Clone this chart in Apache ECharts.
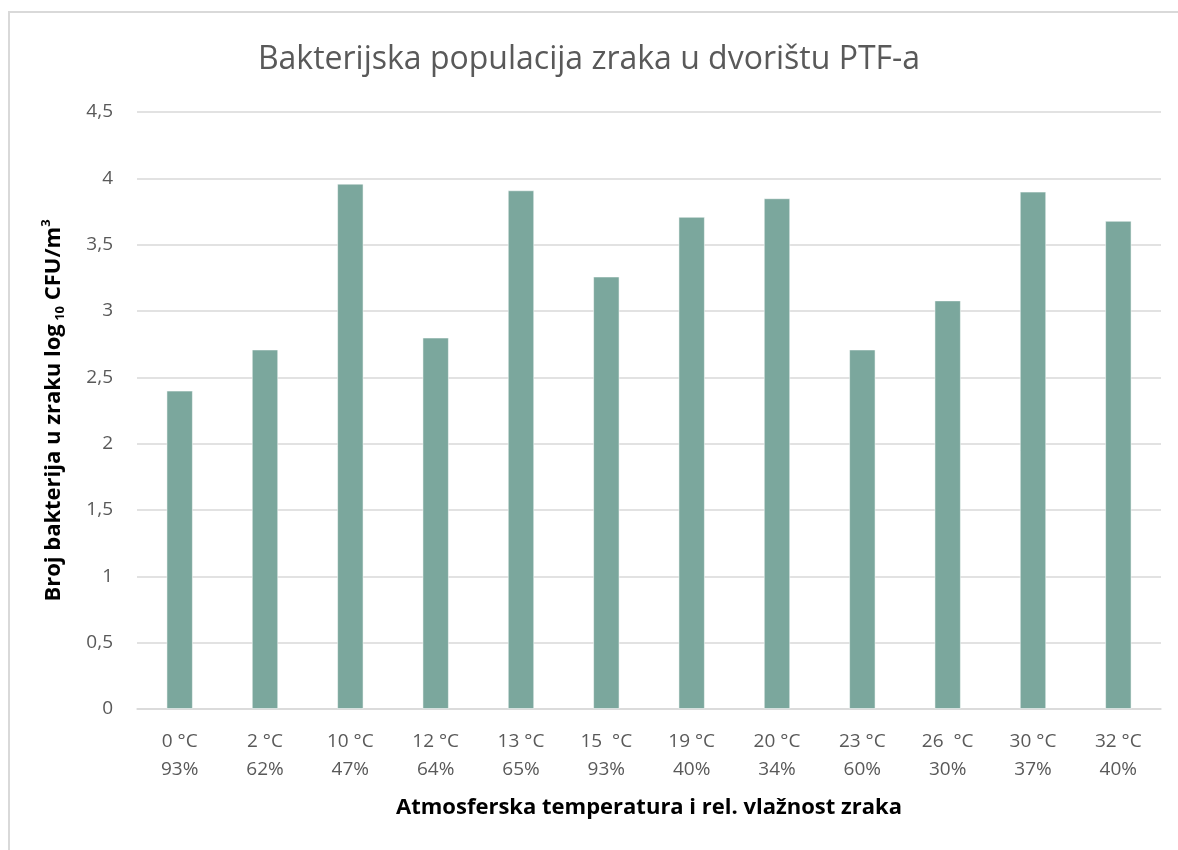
<!DOCTYPE html>
<html>
<head>
<meta charset="utf-8">
<title>Bakterijska populacija zraka</title>
<script src="https://cdn.jsdelivr.net/npm/echarts@6/dist/echarts.min.js"></script>
<style>
  html, body { margin: 0; padding: 0; background: #fff; }
  #chart { width: 1178px; height: 850px; }
</style>
</head>
<body>
<div id="chart"></div>
<script>
  // temperatura i vlaga po mjerenju
  var temps = ['0 °C', '2 °C', '10 °C', '12 °C', '13 °C', '15  °C', '19 °C', '20 °C', '23 °C', '26  °C', '30 °C', '32 °C'];
  var humidity = ['93%', '62%', '47%', '64%', '65%', '93%', '40%', '34%', '60%', '30%', '37%', '40%'];
  // log10 CFU/m3
  var values = [2.40, 2.71, 3.96, 2.80, 3.91, 3.26, 3.71, 3.85, 2.71, 3.08, 3.90, 3.68];

  var categories = temps.map(function (t, i) { return t + '\n' + humidity[i]; });

  var fontName = '"Open Sans", "Noto Sans", sans-serif';
  var myChart = echarts.init(document.getElementById('chart'));

  myChart.setOption({
    backgroundColor: '#fff',
    textStyle: { fontFamily: fontName },
    title: {
      text: 'Bakterijska populacija zraka u dvorištu PTF-a',
      left: 'center',
      top: 39,
      textStyle: {
        fontFamily: fontName,
        fontWeight: 'normal',
        fontSize: 32,
        color: '#595959'
      }
    },
    graphic: [{
      type: 'rect',
      shape: { x: 9, y: 12, width: 1300, height: 1000 },
      style: { fill: 'none', stroke: '#d9d9d9', lineWidth: 2 },
      silent: true
    }],
    grid: {
      left: 137,
      right: 17,
      top: 112,
      bottom: 141
    },
    xAxis: {
      type: 'category',
      data: categories,
      name: 'Atmosferska temperatura i rel. vlažnost zraka',
      nameLocation: 'middle',
      nameGap: 88,
      nameTextStyle: {
        fontFamily: fontName,
        fontWeight: 'bold',
        fontSize: 22,
        color: '#000'
      },
      axisLine: { lineStyle: { color: '#d9d9d9', width: 1.5 } },
      axisTick: { show: false },
      axisLabel: {
        interval: 0,
        margin: 19,
        fontSize: 19,
        lineHeight: 28,
        color: '#595959'
      }
    },
    yAxis: {
      type: 'value',
      min: 0,
      max: 4.5,
      interval: 0.5,
      name: '{a|Broj bakterija u zraku log}{s| 10}{a| CFU/m}{p|3}',
      nameLocation: 'middle',
      nameGap: 70,
      nameTextStyle: {
        fontFamily: fontName,
        fontWeight: 'bold',
        fontSize: 22,
        color: '#000',
        rich: {
          a: { fontFamily: fontName, fontWeight: 'bold', fontSize: 22, color: '#000', lineHeight: 27 },
          s: { fontFamily: fontName, fontWeight: 'bold', fontSize: 13, color: '#000', lineHeight: 16, verticalAlign: 'bottom' },
          p: { fontFamily: fontName, fontWeight: 'bold', fontSize: 13, color: '#000', lineHeight: 16, verticalAlign: 'top' }
        }
      },
      axisLine: { show: false },
      axisTick: { show: false },
      axisLabel: {
        margin: 24,
        fontSize: 19,
        color: '#595959',
        formatter: function (v) { return String(v).replace('.', ','); }
      },
      splitLine: { lineStyle: { color: '#d9d9d9', width: 1.5 } }
    },
    series: [{
      name: 'log10 CFU/m3',
      type: 'bar',
      data: values,
      barWidth: '31%',
      itemStyle: {
        color: '#7ba79d',
        borderColor: 'rgba(255,255,255,0.5)',
        borderWidth: 1
      },
      animation: false
    }]
  });

  window.onresize = function () {
    myChart.resize();
  };
</script>
</body>
</html>
